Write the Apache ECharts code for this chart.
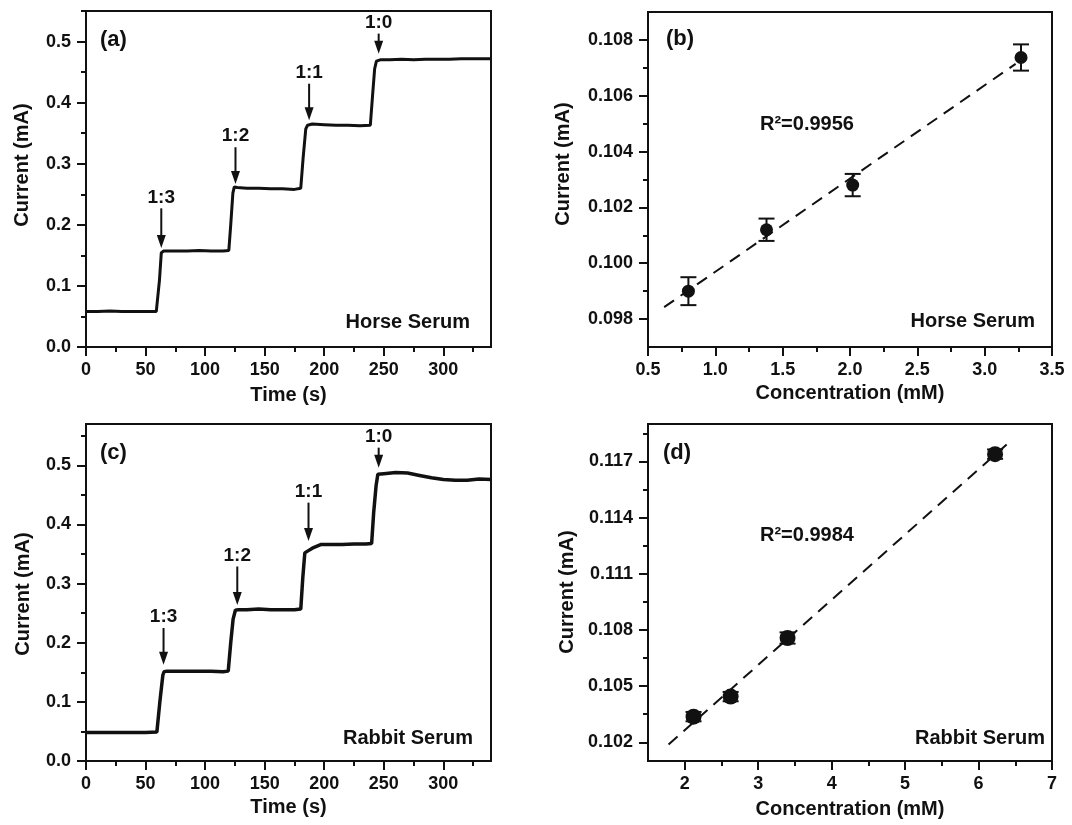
<!DOCTYPE html>
<html>
<head>
<meta charset="utf-8">
<script src="https://cdn.jsdelivr.net/npm/echarts@6/dist/echarts.min.js"></script>
<style>
  html, body { margin: 0; padding: 0; background: #fff; }
  #chart { width: 1072px; height: 825px; }
</style>
</head>
<body>
<div id="chart"></div>
<script>
// ---- (a) amperometric response, horse serum ----
const timeA = [0, 10, 20, 30, 40, 50, 59, 60.2, 61.7, 63.2, 65, 75, 85, 95, 105, 115, 119.9, 121.5, 123.3, 124.5, 127, 135, 145, 155, 165, 175, 180.3, 182.3, 184.5, 186, 190, 200, 210, 220, 230, 238.7, 240.5, 242.3, 243.8, 247, 255, 265, 275, 285, 295, 305, 315, 325, 335, 340];
const currentA = [0.058, 0.058, 0.059, 0.058, 0.058, 0.058, 0.058, 0.061, 0.110, 0.154, 0.157, 0.157, 0.157, 0.158, 0.157, 0.157, 0.158, 0.200, 0.252, 0.262, 0.261, 0.260, 0.260, 0.259, 0.259, 0.258, 0.260, 0.310, 0.357, 0.363, 0.365, 0.364, 0.363, 0.363, 0.362, 0.363, 0.410, 0.455, 0.468, 0.470, 0.470, 0.471, 0.470, 0.471, 0.471, 0.471, 0.472, 0.472, 0.472, 0.472];

// ---- (c) amperometric response, rabbit serum ----
const timeC = [0, 10, 20, 30, 40, 50, 59.5, 62, 64.5, 65.5, 68, 75, 85, 95, 105, 115, 119.4, 121.5, 123.5, 125.4, 128, 135, 145, 155, 165, 175, 180.3, 182, 183.7, 186, 190, 197, 205, 215, 225, 235, 239.8, 241.5, 243.5, 245, 250, 260, 270, 280, 290, 300, 310, 320, 330, 340];
const currentC = [0.048, 0.048, 0.048, 0.048, 0.048, 0.048, 0.049, 0.100, 0.145, 0.151, 0.152, 0.152, 0.152, 0.152, 0.152, 0.151, 0.152, 0.200, 0.240, 0.255, 0.256, 0.256, 0.257, 0.256, 0.256, 0.256, 0.257, 0.310, 0.352, 0.355, 0.360, 0.366, 0.366, 0.366, 0.367, 0.367, 0.368, 0.420, 0.465, 0.485, 0.486, 0.488, 0.487, 0.483, 0.479, 0.476, 0.475, 0.475, 0.477, 0.476];

// dilution ratio added at each step (arrows)
const ratioLabels = ['1:3', '1:2', '1:1', '1:0'];
const arrowTimeA = [63.2, 125.5, 187.3, 245.7];
const arrowTopA = [0.227, 0.327, 0.431, 0.513];
const arrowTipA = [0.162, 0.267, 0.371, 0.480];
const arrowTimeC = [65.1, 127.0, 186.8, 245.7];
const arrowTopC = [0.225, 0.329, 0.437, 0.530];
const arrowTipC = [0.163, 0.264, 0.372, 0.496];

// ---- (b) calibration, horse serum ----
const concB = [0.80, 1.38, 2.02, 3.27];
const currB = [0.0990, 0.1012, 0.1028, 0.10737];
const errB = [0.0005, 0.0004, 0.0004, 0.00047];
const fitRangeB = [0.62, 3.23];
const r2TextB = 'R²=0.9956';

// ---- (d) calibration, rabbit serum ----
const concD = [2.12, 2.625, 3.40, 6.225];
const currD = [0.10337, 0.10444, 0.10757, 0.11739];
const errD = [0.00025, 0.00025, 0.0003, 0.00025];
const fitRangeD = [1.78, 6.43];
const r2TextD = 'R²=0.9984';

// ---- tick values ----
const timeTicks = [0, 50, 100, 150, 200, 250, 300];
const timeMinor = [25, 75, 125, 175, 225, 275, 325];
const ampTicks = [0, 0.1, 0.2, 0.3, 0.4, 0.5];
const ampMinor = [0.05, 0.15, 0.25, 0.35, 0.45, 0.55];
const concTicksB = [0.5, 1.0, 1.5, 2.0, 2.5, 3.0, 3.5];
const concMinorB = [0.75, 1.25, 1.75, 2.25, 2.75, 3.25];
const currTicksB = [0.098, 0.100, 0.102, 0.104, 0.106, 0.108];
const currMinorB = [0.099, 0.101, 0.103, 0.105, 0.107];
const concTicksD = [2, 3, 4, 5, 6, 7];
const concMinorD = [2.5, 3.5, 4.5, 5.5, 6.5];
const currTicksD = [0.102, 0.105, 0.108, 0.111, 0.114, 0.117];
const currMinorD = [0.1035, 0.1065, 0.1095, 0.1125, 0.1155, 0.1185];

const FONT = "'Liberation Sans', Arial, sans-serif";
const INK = '#111';

const zip = (xs, ys) => xs.map((x, i) => [x, ys[i]]);

// least-squares line through the calibration points, drawn over a given x span
function fitLine(xs, ys, range) {
  const n = xs.length;
  const mx = xs.reduce((a, b) => a + b, 0) / n;
  const my = ys.reduce((a, b) => a + b, 0) / n;
  let sxy = 0, sxx = 0;
  xs.forEach((x, i) => { sxy += (x - mx) * (ys[i] - my); sxx += (x - mx) * (x - mx); });
  const k = sxy / sxx, b = my - k * mx;
  return range.map(x => [x, k * x + b]);
}

// a main axis (line, major ticks, labels) plus an overlaid axis carrying the minor ticks
function axisPair(grid, pos, min, max, major, minor, fmt, margin) {
  const main = {
    type: 'value', gridIndex: grid, position: pos, offset: 0, min, max,
    axisLine: { show: true, onZero: false, lineStyle: { color: INK, width: 2 } },
    axisTick: { show: true, customValues: major, length: 9, lineStyle: { color: INK, width: 2 } },
    axisLabel: { show: true, customValues: major, formatter: fmt, margin,
      color: INK, fontSize: 18, fontWeight: 'bold', fontFamily: FONT },
    splitLine: { show: false }
  };
  const sub = {
    type: 'value', gridIndex: grid, position: pos, offset: 0, min, max,
    axisLine: { show: false, onZero: false },
    axisTick: { show: true, customValues: minor, length: 5, lineStyle: { color: INK, width: 2 } },
    axisLabel: { show: false },
    splitLine: { show: false }
  };
  return [main, sub];
}

function arrowSeries(xi, yi, times, tops, tips, labels) {
  return {
    type: 'custom', xAxisIndex: xi, yAxisIndex: yi, silent: true, z: 5,
    data: times.map((t, i) => [t, tops[i], tips[i]]),
    renderItem(params, api) {
      const top = api.coord([api.value(0), api.value(1)]);
      const tip = api.coord([api.value(0), api.value(2)]);
      const head = 13, half = 4.5;
      return {
        type: 'group', children: [
          { type: 'line', shape: { x1: top[0], y1: top[1], x2: tip[0], y2: tip[1] - head + 2 },
            style: { stroke: INK, lineWidth: 2 } },
          { type: 'polygon', shape: { points: [[tip[0], tip[1]], [tip[0] - half, tip[1] - head], [tip[0] + half, tip[1] - head]] },
            style: { fill: INK } },
          { type: 'text', x: top[0], y: top[1] - 11,
            style: { text: labels[params.dataIndex], fill: INK, font: 'bold 19px ' + FONT,
              align: 'center', verticalAlign: 'middle' } }
        ]
      };
    }
  };
}

function errorBarSeries(xi, yi, xs, ys, errs, capHalf) {
  return {
    type: 'custom', xAxisIndex: xi, yAxisIndex: yi, silent: true, z: 3,
    data: xs.map((x, i) => [x, ys[i] - errs[i], ys[i] + errs[i]]),
    renderItem(params, api) {
      const lo = api.coord([api.value(0), api.value(1)]);
      const hi = api.coord([api.value(0), api.value(2)]);
      const st = { stroke: INK, lineWidth: 2 };
      return {
        type: 'group', children: [
          { type: 'line', shape: { x1: lo[0], y1: lo[1], x2: hi[0], y2: hi[1] }, style: st },
          { type: 'line', shape: { x1: lo[0] - capHalf, y1: lo[1], x2: lo[0] + capHalf, y2: lo[1] }, style: st },
          { type: 'line', shape: { x1: hi[0] - capHalf, y1: hi[1], x2: hi[0] + capHalf, y2: hi[1] }, style: st }
        ]
      };
    }
  };
}

const f1 = v => v.toFixed(1);
const f3 = v => v.toFixed(3);
const f0 = v => v.toFixed(0);

const xAxes = [
  ...axisPair(0, 'bottom', 0, 340, timeTicks, timeMinor, f0, 14),
  ...axisPair(1, 'bottom', 0.5, 3.5, concTicksB, concMinorB, f1, 14),
  ...axisPair(2, 'bottom', 0, 340, timeTicks, timeMinor, f0, 14),
  ...axisPair(3, 'bottom', 1.5, 7, concTicksD, concMinorD, f0, 14)
];
const yAxes = [
  ...axisPair(0, 'left', 0, 0.55, ampTicks, ampMinor, f1, 15),
  ...axisPair(1, 'left', 0.097, 0.109, currTicksB, currMinorB, f3, 15),
  ...axisPair(2, 'left', 0, 0.57, ampTicks, ampMinor, f1, 15),
  ...axisPair(3, 'left', 0.101, 0.119, currTicksD, currMinorD, f3, 15)
];

const gridStyle = { show: true, borderColor: INK, borderWidth: 2, backgroundColor: 'transparent', containLabel: false };
const grids = [
  { left: 86, top: 11, width: 405, height: 336, ...gridStyle },
  { left: 648, top: 12, width: 404, height: 335, ...gridStyle },
  { left: 86, top: 424, width: 405, height: 337, ...gridStyle },
  { left: 648, top: 424, width: 404, height: 337, ...gridStyle }
];

function txt(text, x, y, size, align, rot) {
  return {
    type: 'text', x, y, rotation: rot || 0, silent: true, z: 10,
    style: { text, fill: INK, font: 'bold ' + size + 'px ' + FONT, align: align || 'center', verticalAlign: 'middle' }
  };
}

const graphics = [
  txt('(a)', 100, 40, 22, 'left'),
  txt('(b)', 666, 39, 22, 'left'),
  txt('(c)', 100, 453, 22, 'left'),
  txt('(d)', 663, 453, 22, 'left'),
  txt('Horse Serum', 470, 322, 20, 'right'),
  txt('Horse Serum', 1035, 321, 20, 'right'),
  txt('Rabbit Serum', 473, 738, 20, 'right'),
  txt('Rabbit Serum', 1045, 738, 20, 'right'),
  txt(r2TextB, 760, 124, 20, 'left'),
  txt(r2TextD, 760, 535, 20, 'left'),
  txt('Time (s)', 288.5, 395, 20),
  txt('Concentration (mM)', 850, 393, 20),
  txt('Time (s)', 288.5, 807, 20),
  txt('Concentration (mM)', 850, 809, 20),
  txt('Current (mA)', 22, 165, 20, 'center', Math.PI / 2),
  txt('Current (mA)', 563, 164, 20, 'center', Math.PI / 2),
  txt('Current (mA)', 23, 594, 20, 'center', Math.PI / 2),
  txt('Current (mA)', 567, 592, 20, 'center', Math.PI / 2)
];

const series = [
  // (a)
  { type: 'line', xAxisIndex: 0, yAxisIndex: 0, data: zip(timeA, currentA), symbol: 'none',
    lineStyle: { color: INK, width: 3 }, silent: true },
  arrowSeries(0, 0, arrowTimeA, arrowTopA, arrowTipA, ratioLabels),
  // (b)
  { type: 'line', xAxisIndex: 2, yAxisIndex: 2, data: fitLine(concB, currB, fitRangeB), symbol: 'none',
    lineStyle: { color: INK, width: 2, type: [12, 8] }, silent: true },
  errorBarSeries(2, 2, concB, currB, errB, 8),
  { type: 'scatter', xAxisIndex: 2, yAxisIndex: 2, data: zip(concB, currB), symbol: 'circle', symbolSize: 13,
    itemStyle: { color: INK, opacity: 1 }, z: 4, silent: true },
  // (c)
  { type: 'line', xAxisIndex: 4, yAxisIndex: 4, data: zip(timeC, currentC), symbol: 'none',
    lineStyle: { color: INK, width: 3.5 }, silent: true },
  arrowSeries(4, 4, arrowTimeC, arrowTopC, arrowTipC, ratioLabels),
  // (d)
  { type: 'line', xAxisIndex: 6, yAxisIndex: 6, data: fitLine(concD, currD, fitRangeD), symbol: 'none',
    lineStyle: { color: INK, width: 2, type: [12, 8] }, silent: true },
  errorBarSeries(6, 6, concD, currD, errD, 8),
  { type: 'scatter', xAxisIndex: 6, yAxisIndex: 6, data: zip(concD, currD), symbol: 'circle', symbolSize: 16,
    itemStyle: { color: INK, opacity: 1 }, z: 4, silent: true }
];

const chart = echarts.init(document.getElementById('chart'), null, { renderer: 'canvas' });
chart.setOption({
  backgroundColor: '#fff',
  animation: false,
  grid: grids,
  xAxis: xAxes,
  yAxis: yAxes,
  graphic: graphics,
  series
});
</script>
</body>
</html>
